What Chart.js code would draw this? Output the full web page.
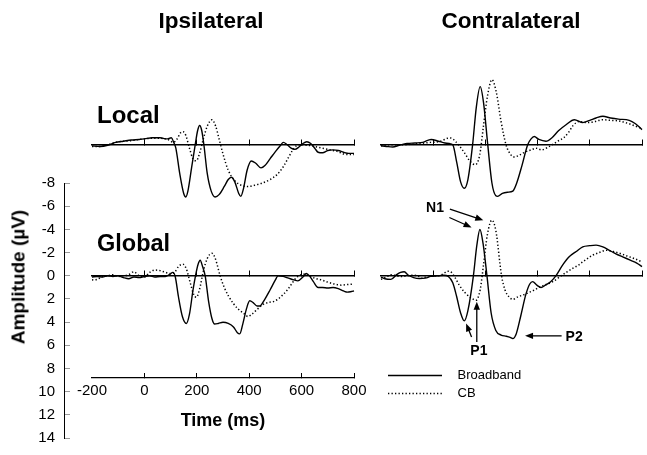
<!DOCTYPE html>
<html>
<head>
<meta charset="utf-8">
<script src="https://cdn.jsdelivr.net/npm/chart.js@4.4.1/dist/chart.umd.min.js"></script>
<style>
  body { margin: 0; background: #fff; }
  #wrap { position: relative; width: 647px; height: 455px; overflow: hidden; font-family: 'Liberation Sans', Arial, sans-serif; color: #000; }
  #wrap canvas { position: absolute; left: 0; top: 0; pointer-events: none; }
  #wrap canvas#key { left: 383px; }
  .lbl { position: absolute; font-weight: bold; white-space: nowrap; }
</style>
</head>
<body>
<div id="wrap">
  <canvas id="axisY" width="647" height="470"></canvas>
  <canvas id="ipsi" width="647" height="455"></canvas>
  <canvas id="contra" width="647" height="455"></canvas>
  <canvas id="key" width="320" height="455"></canvas>
  <div class="lbl" style="left:211px; top:10px; font-size:22.5px; line-height:22.5px; transform:translateX(-50%);">Ipsilateral</div>
  <div class="lbl" style="left:511px; top:10px; font-size:22.5px; line-height:22.5px; transform:translateX(-50%);">Contralateral</div>
  <div class="lbl" style="left:97px; top:102.5px; font-size:24px; line-height:24px;">Local</div>
  <div class="lbl" style="left:97px; top:232px; font-size:23.5px; line-height:23.5px;">Global</div>
  <div class="lbl" style="left:18px; top:277px; font-size:19px; line-height:19px; transform:translate(-50%,-50%) rotate(-90deg);">Amplitude (µV)</div>
</div>
<script>
// tick labels
const timeTicks = [-200, 0, 200, 400, 600, 800];
const ampTicks = [-8, -6, -4, -2, 0, 2, 4, 6, 8, 10, 12, 14];

// [time ms, amplitude µV] (negative up)
const ipsiLocalBroadband = [[-200,0.1],[-170,0.15],[-140,0.05],[-110,-0.2],[-80,-0.3],[-50,-0.4],[-20,-0.45],[0,-0.5],[30,-0.6],[60,-0.6],[85,-0.5],[103,-0.6],[112,-0.2],[120,0.3],[135,2.5],[150,4.2],[158,4.5],[166,4.0],[180,2.0],[194,0],[203,-1.2],[211,-1.65],[219,-1.2],[227,0],[240,2.5],[255,4.0],[270,4.5],[285,4.3],[305,3.6],[320,3.0],[332,2.8],[345,3.2],[360,4.2],[368,4.45],[378,3.8],[392,2.2],[408,1.4],[425,1.6],[445,2.0],[460,1.8],[480,1.2],[500,0.6],[520,0.05],[530,-0.2],[545,0.0],[560,0.3],[574,0.4],[590,0.2],[605,-0.1],[620,-0.25],[635,-0.1],[650,0.3],[663,0.65],[680,0.7],[700,0.5],[720,0.45],[740,0.5],[760,0.65],[780,0.75],[800,0.75]];
const ipsiLocalCB = [[-200,0.15],[-170,0.15],[-140,0.0],[-110,-0.2],[-80,-0.3],[-50,-0.35],[-20,-0.45],[0,-0.5],[30,-0.55],[60,-0.55],[90,-0.45],[110,-0.2],[125,-0.5],[137,-1.0],[147,-1.12],[158,-0.8],[172,0.3],[185,1.2],[198,1.38],[210,0.8],[225,-0.5],[240,-1.6],[258,-2.15],[272,-1.6],[285,-0.5],[300,0.8],[320,2.2],[345,3.1],[370,3.5],[395,3.6],[420,3.5],[450,3.3],[480,3.0],[505,2.6],[530,1.9],[550,1.1],[565,0.5],[580,0.1],[600,0.0],[620,0.05],[640,0.1],[660,0.2],[680,0.3],[700,0.4],[720,0.5],[740,0.6],[760,0.8],[780,0.85],[800,0.85]];
const ipsiGlobalBroadband = [[-200,0.1],[-180,0.05],[-160,0.1],[-140,0.0],[-120,0.05],[-100,0.0],[-80,0.15],[-60,0.25],[-40,0.1],[-20,0.15],[0,0.05],[20,0.0],[40,0.1],[60,0.05],[80,0.05],[95,-0.1],[109,-0.3],[118,0.1],[130,1.8],[145,3.5],[160,4.1],[172,3.3],[185,1.3],[195,0],[205,-1.0],[213,-1.35],[222,-0.8],[232,0],[245,2.2],[258,3.7],[268,4.15],[282,4.1],[300,4.0],[320,4.1],[340,4.4],[355,4.9],[364,5.0],[375,4.2],[390,2.8],[402,2.15],[415,2.3],[430,2.6],[440,2.6],[460,2.0],[480,1.2],[500,0.35],[510,0.0],[530,0.05],[550,0.2],[570,0.35],[586,0.43],[605,0.1],[618,-0.2],[630,0.0],[645,0.5],[663,1.0],[680,1.0],[700,1.05],[720,1.0],[740,1.1],[760,1.3],[775,1.4],[790,1.35],[800,1.3]];
const ipsiGlobalCB = [[-200,0.35],[-180,0.3],[-160,0.05],[-140,0.0],[-120,-0.1],[-100,0.05],[-80,0.0],[-60,-0.1],[-40,-0.35],[-20,0.0],[0,0.1],[20,-0.3],[40,-0.5],[60,-0.45],[80,-0.3],[100,-0.2],[115,-0.3],[130,-0.8],[147,-1.0],[160,-0.6],[175,0.6],[188,1.6],[198,1.85],[210,1.2],[225,-0.4],[240,-1.5],[258,-1.95],[272,-1.4],[289,0],[305,1.0],[320,1.7],[340,2.4],[360,2.9],[383,3.3],[395,3.5],[410,3.3],[430,2.9],[450,2.5],[472,2.3],[495,2.2],[510,2.0],[530,1.6],[548,1.15],[565,0.6],[580,0.15],[600,-0.1],[612,-0.15],[630,0.0],[650,0.2],[675,0.35],[701,0.55],[725,0.7],[752,0.8],[775,0.75],[800,0.7]];
const contraLocalBroadband = [[-200,0.1],[-180,0.15],[-155,0.2],[-130,0.05],[-100,-0.1],[-70,-0.15],[-40,-0.2],[-8,-0.45],[20,-0.3],[45,-0.15],[62,-0.1],[75,0.0],[90,1.5],[105,3.2],[119,3.75],[133,3.0],[151,0],[165,-3.2],[180,-5.0],[193,-3.6],[209,0],[225,3.3],[240,4.4],[247,4.45],[265,4.2],[285,4.1],[305,4.0],[320,3.3],[340,1.8],[362,0],[375,-0.5],[387,-0.7],[405,-0.45],[432,-0.3],[455,-0.6],[480,-1.2],[509,-1.72],[541,-2.15],[573,-1.9],[600,-2.1],[624,-2.3],[650,-2.45],[680,-2.3],[710,-2.2],[751,-2.1],[775,-1.8],[800,-1.3]];
const contraLocalCB = [[-200,0.1],[-170,0.0],[-140,0.0],[-110,0.0],[-80,-0.05],[-50,-0.1],[-10,-0.2],[20,-0.25],[36,-0.37],[55,-0.55],[68,-0.57],[85,-0.3],[100,0.1],[120,0.7],[140,1.4],[161,1.72],[178,0.9],[192,-1.5],[208,-4.2],[225,-5.6],[242,-4.5],[260,-2.0],[279,0],[295,0.8],[311,1.06],[330,0.9],[355,0.6],[375,0.45],[394,0.3],[415,0.45],[441,0.2],[460,-0.05],[477,-0.3],[500,-0.6],[520,-1.1],[534,-1.6],[560,-2.0],[590,-1.9],[620,-2.0],[649,-2.15],[680,-2.1],[710,-2.05],[751,-1.8],[775,-1.6],[800,-1.4]];
const contraGlobalBroadband = [[-200,0.1],[-185,0.25],[-162,0.3],[-140,-0.1],[-125,-0.3],[-111,-0.35],[-95,-0.05],[-75,0.15],[-53,0.23],[-30,0.2],[-10,0.05],[15,0.0],[40,-0.05],[58,0.05],[75,0.6],[90,1.8],[105,3.2],[119,3.88],[133,3.0],[154,0],[167,-2.6],[179,-4.0],[191,-2.8],[206,0],[222,3.2],[240,4.7],[260,5.1],[280,5.2],[295,5.3],[305,5.4],[318,5.0],[335,3.5],[355,1.6],[370,0.7],[381,0.5],[397,0.8],[413,1.0],[430,0.8],[450,0.5],[470,0.0],[495,-0.9],[521,-1.64],[548,-2.1],[573,-2.5],[600,-2.6],[624,-2.65],[650,-2.5],[675,-2.2],[700,-1.9],[726,-1.64],[755,-1.35],[780,-1.1],[800,-0.8]];
const contraGlobalCB = [[-200,0.3],[-180,0.1],[-160,-0.1],[-140,0.0],[-120,0.05],[-100,0.0],[-80,-0.05],[-60,0.0],[-40,0.2],[-20,0.0],[0,0.0],[20,0.0],[40,-0.2],[55,-0.4],[70,-0.3],[85,0.2],[100,0.8],[120,1.4],[145,1.9],[164,2.1],[180,1.2],[193,-1.0],[208,-3.6],[225,-4.8],[240,-3.9],[262,0],[275,1.2],[290,1.8],[305,2.03],[325,1.8],[350,1.6],[370,1.4],[387,1.23],[405,1.0],[426,0.8],[458,0.5],[490,0.0],[510,-0.3],[534,-0.64],[555,-0.9],[573,-1.2],[592,-1.5],[611,-1.78],[635,-2.0],[662,-2.2],[690,-2.1],[720,-1.9],[750,-1.65],[775,-1.45],[800,-1.2]];

// component labels on the contralateral global panel [text, ms, µV]
const peakLabels = [['N1', 7, -5.85], ['P1', 175, 6.5], ['P2', 540, 5.28]];
// arrows [fromMs, fromUv, toMs, toUv]
const peakArrows = [[64, -5.75, 192, -4.8], [62, -5.03, 147, -4.17], [167, 5.69, 167, 2.24], [147, 5.26, 126, 4.1], [492, 5.17, 352, 5.17]];

Chart.defaults.font.family = "'Liberation Sans', Arial, sans-serif";
Chart.defaults.color = '#000';

const Y_TOP = -8, Y_BOTTOM = 8.8, LOCAL_SHIFT = 11.3;

const solid = { borderColor: '#000', borderWidth: 1.4 };
const dotted = { borderColor: '#000', borderWidth: 1.5, borderDash: [1.3, 2.2] };

function series(label, pts, style, yAxisID) {
  return Object.assign({
    label, yAxisID, xAxisID: 'x',
    data: pts.map(([x, y]) => ({ x, y })),
    pointRadius: 0, fill: false, backgroundColor: 'transparent',
    cubicInterpolationMode: 'monotone', clip: false
  }, style);
}

function baseline(yId) {
  return {
    type: 'linear', axis: 'x', position: { [yId]: 0 }, min: -200, max: 800,
    afterBuildTicks: s => { s.ticks = timeTicks.filter(v => v >= 0).map(value => ({ value })); },
    ticks: { display: false },
    grid: { drawOnChartArea: false, color: '#000', tickLength: -6, lineWidth: 1 },
    border: { color: '#000', width: 1.5 }
  };
}

function panelScales(showTime) {
  const x = { type: 'linear', min: -200, max: 800, display: showTime };
  if (showTime) Object.assign(x, {
    afterBuildTicks: s => { s.ticks = timeTicks.map(value => ({ value })); },
    afterFit: s => { s.height = 77; },
    ticks: { font: { size: 15 }, color: '#000', padding: 9 },
    grid: { drawOnChartArea: false, tickLength: -5, color: '#000',
            tickColor: c => (c.tick && c.tick.value < 0 ? 'rgba(0,0,0,0)' : '#000') },
    border: { color: '#000', width: 1.3 },
    title: { display: true, text: 'Time (ms)', font: { size: 18, weight: 'bold' }, color: '#000', padding: { top: 0, bottom: 23 } }
  });
  return {
    x,
    y: { type: 'linear', min: Y_TOP, max: Y_BOTTOM, reverse: true, display: false },
    yl: { type: 'linear', min: Y_TOP + LOCAL_SHIFT, max: Y_BOTTOM + LOCAL_SHIFT, reverse: true, display: false },
    xg: baseline('y'),
    xl: baseline('yl')
  };
}

const common = {
  responsive: false, animation: false, events: [],
  plugins: { legend: { display: false }, tooltip: { enabled: false } }
};

// amplitude axis (canvas a little taller than the page: label padding sets the bottom gap)
new Chart(document.getElementById('axisY'), {
  type: 'line',
  data: { datasets: [] },
  options: Object.assign({}, common, {
    layout: { padding: { left: 0, right: 480, top: 183, bottom: 32 } },
    scales: {
      x: { type: 'linear', display: false, min: 0, max: 1 },
      y: {
        type: 'linear', position: 'left', min: -8, max: 14, reverse: true,
        afterBuildTicks: s => { s.ticks = ampTicks.map(value => ({ value })); },
        afterFit: s => { s.width = 64; },
        ticks: { color: '#000', font: { size: 15 }, padding: 15 },
        grid: { drawOnChartArea: false, color: '#999', tickLength: -6 },
        border: { color: '#000', width: 1 }
      }
    }
  })
});

// ipsilateral panels
new Chart(document.getElementById('ipsi'), {
  type: 'line',
  data: { datasets: [
    series('Broadband', ipsiLocalBroadband, solid, 'yl'),
    series('CB', ipsiLocalCB, dotted, 'yl'),
    series('Broadband', ipsiGlobalBroadband, solid, 'y'),
    series('CB', ipsiGlobalCB, dotted, 'y')
  ] },
  options: Object.assign({}, common, {
    layout: { padding: { left: 92, right: 293, top: 183, bottom: 0 } },
    scales: panelScales(true)
  })
});

// arrows and component names
const annotate = {
  id: 'annotate',
  afterDatasetsDraw(chart) {
    const { ctx } = chart;
    const x = chart.scales.x, y = chart.scales.y;
    ctx.save();
    ctx.strokeStyle = '#000';
    ctx.fillStyle = '#000';
    ctx.lineWidth = 1.3;
    peakArrows.forEach(([t0, v0, t1, v1]) => {
      const x0 = x.getPixelForValue(t0), y0 = y.getPixelForValue(v0);
      const x1 = x.getPixelForValue(t1), y1 = y.getPixelForValue(v1);
      const a = Math.atan2(y1 - y0, x1 - x0), c = Math.cos(a), s = Math.sin(a);
      ctx.beginPath();
      ctx.moveTo(x0, y0);
      ctx.lineTo(x1 - 6 * c, y1 - 6 * s);
      ctx.stroke();
      ctx.beginPath();
      ctx.moveTo(x1, y1);
      ctx.lineTo(x1 - 8 * c + 3.2 * s, y1 - 8 * s - 3.2 * c);
      ctx.lineTo(x1 - 8 * c - 3.2 * s, y1 - 8 * s + 3.2 * c);
      ctx.closePath();
      ctx.fill();
    });
    ctx.font = "bold 14px 'Liberation Sans', Arial, sans-serif";
    ctx.textAlign = 'center';
    ctx.textBaseline = 'middle';
    peakLabels.forEach(([txt, t, v]) => ctx.fillText(txt, x.getPixelForValue(t), y.getPixelForValue(v)));
    ctx.restore();
  }
};

// contralateral panels
new Chart(document.getElementById('contra'), {
  type: 'line',
  data: { datasets: [
    series('Broadband', contraLocalBroadband, solid, 'yl'),
    series('CB', contraLocalCB, dotted, 'yl'),
    series('Broadband', contraGlobalBroadband, solid, 'y'),
    series('CB', contraGlobalCB, dotted, 'y')
  ] },
  options: Object.assign({}, common, {
    layout: { padding: { left: 381, right: 5, top: 183, bottom: 77 } },
    scales: panelScales(false)
  }),
  plugins: [annotate]
});

// legend
function keyDash(pattern, length) {
  const out = [];
  for (let d = 0; d + pattern[0] <= length; d += pattern[0] + pattern[1]) out.push(pattern[0], pattern[1]);
  out.push(0, 600);
  return out;
}
const keyDashes = [[54, 600], keyDash(dotted.borderDash, 54)];

new Chart(document.getElementById('key'), {
  type: 'line',
  data: { datasets: [
    Object.assign({ label: 'Broadband', data: [], backgroundColor: 'transparent' }, solid),
    Object.assign({ label: 'CB', data: [], backgroundColor: 'transparent' }, dotted)
  ] },
  options: {
    responsive: false, animation: false, events: [],
    layout: { padding: { left: 0, right: 0, top: 364, bottom: 0 } },
    scales: { x: { display: false }, y: { display: false } },
    plugins: {
      tooltip: { enabled: false },
      legend: {
        position: 'left', align: 'start',
        labels: {
          boxWidth: 63, boxHeight: 0, padding: 5, color: '#000', font: { size: 13 },
          generateLabels(chart) {
            const items = Chart.defaults.plugins.legend.labels.generateLabels(chart);
            items.forEach((it, i) => { it.lineDash = keyDashes[i]; it.fillStyle = 'transparent'; });
            return items;
          }
        }
      }
    }
  }
});
</script>
</body>
</html>
